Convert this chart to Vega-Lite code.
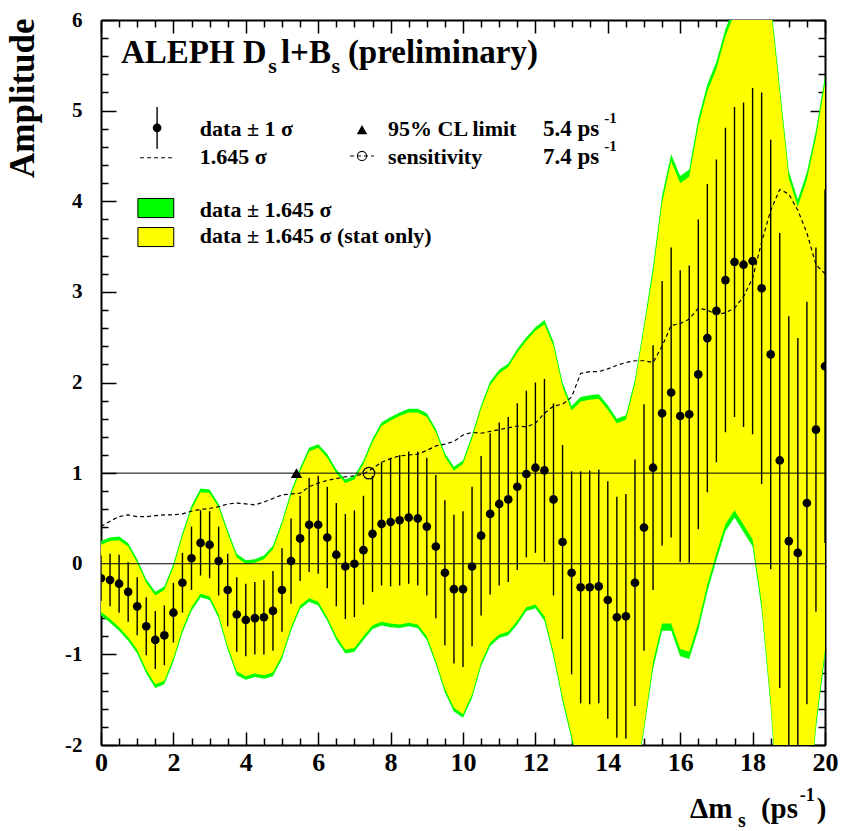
{
"$schema":"https://vega.github.io/schema/vega-lite/v6.json",
"width":724,"height":725,
"autosize":{"type":"none"},
"padding":{"left":101,"top":20,"right":16,"bottom":86},
"background":"white",
"config":{"view":{"stroke":null},"font":"Liberation Serif"},
"data":{"values":[{}]},
"datasets":{"main":[
{"x":0,"a":-0.16,"d":0.41,"s":0.25,"gl":-0.57,"gh":0.25,"yl":-0.53,"yh":0.21},
{"x":0.25,"a":-0.18,"d":0.47,"s":0.29,"gl":-0.65,"gh":0.29,"yl":-0.61,"yh":0.25},
{"x":0.5,"a":-0.22,"d":0.52,"s":0.32,"gl":-0.74,"gh":0.30,"yl":-0.70,"yh":0.26},
{"x":0.75,"a":-0.31,"d":0.54,"s":0.33,"gl":-0.85,"gh":0.23,"yl":-0.81,"yh":0.19},
{"x":1,"a":-0.47,"d":0.52,"s":0.32,"gl":-0.99,"gh":0.05,"yl":-0.95,"yh":0.01},
{"x":1.25,"a":-0.69,"d":0.52,"s":0.32,"gl":-1.21,"gh":-0.17,"yl":-1.17,"yh":-0.21},
{"x":1.5,"a":-0.84,"d":0.53,"s":0.32,"gl":-1.37,"gh":-0.31,"yl":-1.33,"yh":-0.35},
{"x":1.75,"a":-0.79,"d":0.54,"s":0.33,"gl":-1.33,"gh":-0.25,"yl":-1.29,"yh":-0.29},
{"x":2,"a":-0.54,"d":0.54,"s":0.33,"gl":-1.08,"gh":0.00,"yl":-1.04,"yh":-0.04},
{"x":2.25,"a":-0.21,"d":0.55,"s":0.33,"gl":-0.76,"gh":0.34,"yl":-0.72,"yh":0.30},
{"x":2.5,"a":0.06,"d":0.58,"s":0.35,"gl":-0.52,"gh":0.64,"yl":-0.48,"yh":0.60},
{"x":2.75,"a":0.23,"d":0.60,"s":0.36,"gl":-0.37,"gh":0.83,"yl":-0.33,"yh":0.79},
{"x":3,"a":0.21,"d":0.61,"s":0.37,"gl":-0.40,"gh":0.82,"yl":-0.36,"yh":0.78},
{"x":3.25,"a":0.03,"d":0.63,"s":0.38,"gl":-0.60,"gh":0.66,"yl":-0.56,"yh":0.62},
{"x":3.5,"a":-0.29,"d":0.66,"s":0.40,"gl":-0.95,"gh":0.37,"yl":-0.91,"yh":0.33},
{"x":3.75,"a":-0.56,"d":0.67,"s":0.41,"gl":-1.23,"gh":0.11,"yl":-1.19,"yh":0.07},
{"x":4,"a":-0.62,"d":0.66,"s":0.40,"gl":-1.28,"gh":0.04,"yl":-1.24,"yh":0.00},
{"x":4.25,"a":-0.60,"d":0.65,"s":0.40,"gl":-1.25,"gh":0.05,"yl":-1.21,"yh":0.01},
{"x":4.5,"a":-0.59,"d":0.68,"s":0.41,"gl":-1.27,"gh":0.09,"yl":-1.23,"yh":0.05},
{"x":4.75,"a":-0.52,"d":0.72,"s":0.44,"gl":-1.24,"gh":0.20,"yl":-1.20,"yh":0.16},
{"x":5,"a":-0.29,"d":0.76,"s":0.46,"gl":-1.05,"gh":0.47,"yl":-1.01,"yh":0.43},
{"x":5.25,"a":0.03,"d":0.77,"s":0.47,"gl":-0.74,"gh":0.80,"yl":-0.70,"yh":0.76},
{"x":5.5,"a":0.28,"d":0.78,"s":0.47,"gl":-0.50,"gh":1.06,"yl":-0.46,"yh":1.02},
{"x":5.75,"a":0.43,"d":0.85,"s":0.52,"gl":-0.42,"gh":1.28,"yl":-0.38,"yh":1.24},
{"x":6,"a":0.43,"d":0.89,"s":0.54,"gl":-0.46,"gh":1.32,"yl":-0.42,"yh":1.28},
{"x":6.25,"a":0.29,"d":0.92,"s":0.56,"gl":-0.63,"gh":1.21,"yl":-0.59,"yh":1.17},
{"x":6.5,"a":0.10,"d":0.94,"s":0.57,"gl":-0.84,"gh":1.04,"yl":-0.80,"yh":1.00},
{"x":6.75,"a":-0.03,"d":0.96,"s":0.58,"gl":-0.99,"gh":0.93,"yl":-0.95,"yh":0.89},
{"x":7,"a":0.00,"d":0.97,"s":0.59,"gl":-0.97,"gh":0.97,"yl":-0.93,"yh":0.93},
{"x":7.25,"a":0.15,"d":0.99,"s":0.60,"gl":-0.84,"gh":1.14,"yl":-0.80,"yh":1.10},
{"x":7.5,"a":0.33,"d":1.05,"s":0.64,"gl":-0.72,"gh":1.38,"yl":-0.68,"yh":1.34},
{"x":7.75,"a":0.44,"d":1.12,"s":0.68,"gl":-0.68,"gh":1.56,"yl":-0.64,"yh":1.52},
{"x":8,"a":0.46,"d":1.16,"s":0.71,"gl":-0.70,"gh":1.62,"yl":-0.66,"yh":1.58},
{"x":8.25,"a":0.48,"d":1.19,"s":0.72,"gl":-0.71,"gh":1.67,"yl":-0.67,"yh":1.63},
{"x":8.5,"a":0.51,"d":1.20,"s":0.73,"gl":-0.69,"gh":1.71,"yl":-0.65,"yh":1.67},
{"x":8.75,"a":0.50,"d":1.21,"s":0.74,"gl":-0.71,"gh":1.71,"yl":-0.67,"yh":1.67},
{"x":9,"a":0.41,"d":1.25,"s":0.76,"gl":-0.84,"gh":1.66,"yl":-0.80,"yh":1.62},
{"x":9.25,"a":0.19,"d":1.30,"s":0.79,"gl":-1.11,"gh":1.49,"yl":-1.07,"yh":1.45},
{"x":9.5,"a":-0.10,"d":1.32,"s":0.80,"gl":-1.42,"gh":1.22,"yl":-1.38,"yh":1.18},
{"x":9.75,"a":-0.28,"d":1.35,"s":0.82,"gl":-1.63,"gh":1.07,"yl":-1.59,"yh":1.03},
{"x":10,"a":-0.28,"d":1.42,"s":0.86,"gl":-1.70,"gh":1.14,"yl":-1.66,"yh":1.10},
{"x":10.25,"a":-0.03,"d":1.45,"s":0.88,"gl":-1.48,"gh":1.42,"yl":-1.44,"yh":1.38},
{"x":10.5,"a":0.31,"d":1.44,"s":0.88,"gl":-1.13,"gh":1.75,"yl":-1.09,"yh":1.71},
{"x":10.75,"a":0.55,"d":1.46,"s":0.89,"gl":-0.91,"gh":2.01,"yl":-0.87,"yh":1.97},
{"x":11,"a":0.66,"d":1.48,"s":0.90,"gl":-0.82,"gh":2.14,"yl":-0.78,"yh":2.10},
{"x":11.25,"a":0.71,"d":1.50,"s":0.91,"gl":-0.79,"gh":2.21,"yl":-0.75,"yh":2.17},
{"x":11.5,"a":0.85,"d":1.52,"s":0.92,"gl":-0.67,"gh":2.37,"yl":-0.63,"yh":2.33},
{"x":11.75,"a":0.99,"d":1.51,"s":0.92,"gl":-0.52,"gh":2.50,"yl":-0.48,"yh":2.46},
{"x":12,"a":1.06,"d":1.55,"s":0.94,"gl":-0.49,"gh":2.61,"yl":-0.45,"yh":2.57},
{"x":12.25,"a":1.03,"d":1.66,"s":1.01,"gl":-0.63,"gh":2.69,"yl":-0.58,"yh":2.64},
{"x":12.5,"a":0.71,"d":1.74,"s":1.06,"gl":-1.03,"gh":2.45,"yl":-0.98,"yh":2.40},
{"x":12.75,"a":0.24,"d":1.76,"s":1.07,"gl":-1.52,"gh":2.00,"yl":-1.47,"yh":1.95},
{"x":13,"a":-0.10,"d":1.84,"s":1.12,"gl":-1.94,"gh":1.74,"yl":-1.89,"yh":1.69},
{"x":13.25,"a":-0.26,"d":2.10,"s":1.28,"gl":-2.36,"gh":1.84,"yl":-2.31,"yh":1.79},
{"x":13.5,"a":-0.26,"d":2.12,"s":1.29,"gl":-2.38,"gh":1.86,"yl":-2.33,"yh":1.81},
{"x":13.75,"a":-0.25,"d":2.12,"s":1.29,"gl":-2.37,"gh":1.87,"yl":-2.32,"yh":1.82},
{"x":14,"a":-0.40,"d":2.15,"s":1.31,"gl":-2.55,"gh":1.75,"yl":-2.50,"yh":1.70},
{"x":14.25,"a":-0.59,"d":2.19,"s":1.33,"gl":-2.78,"gh":1.60,"yl":-2.73,"yh":1.55},
{"x":14.5,"a":-0.58,"d":2.22,"s":1.35,"gl":-2.80,"gh":1.64,"yl":-2.75,"yh":1.59},
{"x":14.75,"a":-0.21,"d":2.24,"s":1.36,"gl":-2.45,"gh":2.03,"yl":-2.40,"yh":1.98},
{"x":15,"a":0.40,"d":2.24,"s":1.36,"gl":-1.84,"gh":2.64,"yl":-1.79,"yh":2.59},
{"x":15.25,"a":1.06,"d":2.22,"s":1.35,"gl":-1.16,"gh":3.28,"yl":-1.08,"yh":3.20},
{"x":15.5,"a":1.66,"d":2.40,"s":1.46,"gl":-0.74,"gh":4.06,"yl":-0.66,"yh":3.98},
{"x":15.75,"a":1.89,"d":2.63,"s":1.60,"gl":-0.74,"gh":4.52,"yl":-0.66,"yh":4.44},
{"x":16,"a":1.63,"d":2.65,"s":1.61,"gl":-1.02,"gh":4.28,"yl":-0.94,"yh":4.20},
{"x":16.25,"a":1.65,"d":2.70,"s":1.64,"gl":-1.05,"gh":4.35,"yl":-0.97,"yh":4.27},
{"x":16.5,"a":2.09,"d":2.82,"s":1.71,"gl":-0.73,"gh":4.91,"yl":-0.65,"yh":4.83},
{"x":16.75,"a":2.49,"d":2.80,"s":1.70,"gl":-0.31,"gh":5.29,"yl":-0.23,"yh":5.21},
{"x":17,"a":2.79,"d":2.75,"s":1.67,"gl":0.04,"gh":5.54,"yl":0.12,"yh":5.46},
{"x":17.25,"a":3.13,"d":2.77,"s":1.68,"gl":0.36,"gh":5.90,"yl":0.44,"yh":5.82},
{"x":17.5,"a":3.33,"d":2.82,"s":1.71,"gl":0.51,"gh":6.15,"yl":0.59,"yh":6.07},
{"x":17.75,"a":3.30,"d":2.95,"s":1.79,"gl":0.35,"gh":6.25,"yl":0.43,"yh":6.17},
{"x":18,"a":3.34,"d":3.15,"s":1.91,"gl":0.19,"gh":6.49,"yl":0.27,"yh":6.41},
{"x":18.25,"a":3.04,"d":3.55,"s":2.16,"gl":-0.51,"gh":6.59,"yl":-0.43,"yh":6.51},
{"x":18.5,"a":2.31,"d":3.90,"s":2.37,"gl":-1.59,"gh":6.21,"yl":-1.51,"yh":6.13},
{"x":18.75,"a":1.14,"d":4.13,"s":2.51,"gl":-2.99,"gh":5.27,"yl":-2.91,"yh":5.19},
{"x":19,"a":0.25,"d":4.08,"s":2.48,"gl":-3.83,"gh":4.33,"yl":-3.75,"yh":4.25},
{"x":19.25,"a":0.12,"d":3.90,"s":2.37,"gl":-3.78,"gh":4.02,"yl":-3.70,"yh":3.94},
{"x":19.5,"a":0.67,"d":3.65,"s":2.22,"gl":-2.98,"gh":4.32,"yl":-2.90,"yh":4.24},
{"x":19.75,"a":1.48,"d":3.30,"s":2.01,"gl":-1.82,"gh":4.78,"yl":-1.74,"yh":4.70},
{"x":20,"a":2.18,"d":3.20,"s":1.95,"gl":-1.02,"gh":5.38,"yl":-0.94,"yh":5.30}
]},
"resolve":{"axis":{"x":"independent","y":"independent"}},
"layer":[
{"data":{"name":"main"},"mark":{"type":"area","color":"#00ff00","clip":true},
 "encoding":{
  "x":{"field":"x","type":"quantitative","scale":{"domain":[0,20],"nice":false,"zero":false},
   "axis":{"orient":"bottom","values":[0,0.5,1,1.5,2,2.5,3,3.5,4,4.5,5,5.5,6,6.5,7,7.5,8,8.5,9,9.5,10,10.5,11,11.5,12,12.5,13,13.5,14,14.5,15,15.5,16,16.5,17,17.5,18,18.5,19,19.5,20],
    "title":null,"grid":false,"domainColor":"black","domainWidth":2,"tickColor":"black","tickWidth":1.5,
    "tickSize":{"condition":{"test":"datum.value % 2 === 0","value":-13},"value":-7},
    "labelExpr":"datum.value % 2 === 0 ? '' + datum.value : ''",
    "labelFont":"Liberation Serif","labelFontWeight":"bold","labelFontSize":26,"labelColor":"black","labelPadding":17,"labelBaseline":"top","labelOverlap":false,"labelFlush":false,"labelBound":false}},
  "y":{"field":"gl","type":"quantitative","scale":{"domain":[-2,6],"nice":false,"zero":false},
   "axis":{"orient":"left","values":[-2,-1.8,-1.6,-1.4,-1.2,-1,-0.8,-0.6,-0.4,-0.2,0,0.2,0.4,0.6,0.8,1,1.2,1.4,1.6,1.8,2,2.2,2.4,2.6,2.8,3,3.2,3.4,3.6,3.8,4,4.2,4.4,4.6,4.8,5,5.2,5.4,5.6,5.8,6],
    "title":"Amplitude","titleFont":"Liberation Serif","titleFontWeight":"bold","titleFontSize":35,"titleColor":"black","titleAngle":270,"titleAlign":"right","titleBaseline":"alphabetic","titleX":-68,"titleY":-2,
    "grid":false,"domainColor":"black","domainWidth":2,"tickColor":"black","tickWidth":1.5,
    "tickSize":{"condition":{"test":"abs(datum.value-round(datum.value))<0.001","value":-15},"value":-7},
    "labelExpr":"abs(datum.value-round(datum.value))<0.001 ? '' + round(datum.value) : ''",
    "labelFont":"Liberation Serif","labelFontWeight":"bold","labelFontSize":21,"labelColor":"black","labelPadding":34,"labelBaseline":"middle","labelOverlap":false,"labelFlush":false,"labelBound":false}},
  "y2":{"field":"gh"}}},
{"data":{"name":"main"},"mark":{"type":"area","color":"#ffff00","clip":true},
 "encoding":{
  "x":{"field":"x","type":"quantitative",
   "axis":{"orient":"top","values":[0,0.5,1,1.5,2,2.5,3,3.5,4,4.5,5,5.5,6,6.5,7,7.5,8,8.5,9,9.5,10,10.5,11,11.5,12,12.5,13,13.5,14,14.5,15,15.5,16,16.5,17,17.5,18,18.5,19,19.5,20],
    "title":null,"grid":false,"labels":false,"domainColor":"black","domainWidth":2,"tickColor":"black","tickWidth":1.5,
    "tickSize":{"condition":{"test":"datum.value % 2 === 0","value":-13},"value":-7}}},
  "y":{"field":"yl","type":"quantitative",
   "axis":{"orient":"right","values":[-2,-1.8,-1.6,-1.4,-1.2,-1,-0.8,-0.6,-0.4,-0.2,0,0.2,0.4,0.6,0.8,1,1.2,1.4,1.6,1.8,2,2.2,2.4,2.6,2.8,3,3.2,3.4,3.6,3.8,4,4.2,4.4,4.6,4.8,5,5.2,5.4,5.6,5.8,6],
    "title":null,"grid":false,"labels":false,"domainColor":"black","domainWidth":2,"tickColor":"black","tickWidth":1.5,
    "tickSize":{"condition":{"test":"abs(datum.value-round(datum.value))<0.001","value":-15},"value":-7}}},
  "y2":{"field":"yh"}}},
{"mark":{"type":"rule","color":"black","strokeWidth":1},"encoding":{"y":{"datum":0,"type":"quantitative","axis":null}}},
{"mark":{"type":"rule","color":"black","strokeWidth":1},"encoding":{"y":{"datum":1,"type":"quantitative","axis":null}}},
{"data":{"name":"main"},"mark":{"type":"line","color":"black","strokeWidth":1.2,"strokeDash":[4,3],"clip":true},
 "encoding":{"x":{"field":"x","type":"quantitative","axis":null},"y":{"field":"d","type":"quantitative","axis":null}}},
{"data":{"name":"main"},"mark":{"type":"errorbar","ticks":false,"color":"black","thickness":1.4,"clip":true},
 "encoding":{"x":{"field":"x","type":"quantitative","axis":null},"y":{"field":"a","type":"quantitative","axis":null},"yError":{"field":"s"}}},
{"data":{"name":"main"},"mark":{"type":"point","shape":"circle","filled":true,"color":"black","opacity":1,"size":75,"clip":true},
 "encoding":{"x":{"field":"x","type":"quantitative","axis":null},"y":{"field":"a","type":"quantitative","axis":null}}},
{"mark":{"type":"point","shape":"triangle-up","filled":true,"color":"black","opacity":1,"size":130},
 "encoding":{"x":{"datum":5.4,"type":"quantitative","axis":null},"y":{"datum":1,"type":"quantitative","axis":null}}},
{"mark":{"type":"point","shape":"circle","filled":false,"color":"black","opacity":1,"size":135,"strokeWidth":1.3},
 "encoding":{"x":{"datum":7.4,"type":"quantitative","axis":null},"y":{"datum":1,"type":"quantitative","axis":null}}},
{"mark":{"type":"rule","color":"black","strokeWidth":1.4},
 "encoding":{"x":{"datum":1.55,"type":"quantitative","axis":null},"y":{"datum":4.58,"type":"quantitative","axis":null},"y2":{"datum":5.04}}},
{"mark":{"type":"point","shape":"circle","filled":true,"color":"black","opacity":1,"size":75},
 "encoding":{"x":{"datum":1.55,"type":"quantitative","axis":null},"y":{"datum":4.81,"type":"quantitative","axis":null}}},
{"mark":{"type":"rule","color":"black","strokeWidth":1.2,"strokeDash":[4,3]},
 "encoding":{"x":{"datum":1.08,"type":"quantitative","axis":null},"x2":{"datum":2.04},"y":{"datum":4.48,"type":"quantitative","axis":null}}},
{"mark":{"type":"point","shape":"triangle-up","filled":true,"color":"black","opacity":1,"size":110},
 "encoding":{"x":{"datum":7.21,"type":"quantitative","axis":null},"y":{"datum":4.79,"type":"quantitative","axis":null}}},
{"mark":{"type":"rule","color":"black","strokeWidth":1,"strokeDash":[4,3]},
 "encoding":{"x":{"datum":6.88,"type":"quantitative","axis":null},"x2":{"datum":7.54},"y":{"datum":4.5,"type":"quantitative","axis":null}}},
{"mark":{"type":"point","shape":"circle","filled":false,"color":"black","opacity":1,"size":85,"strokeWidth":1.1},
 "encoding":{"x":{"datum":7.21,"type":"quantitative","axis":null},"y":{"datum":4.5,"type":"quantitative","axis":null}}},
{"mark":{"type":"rect","color":"#00ff00","stroke":"black","strokeWidth":1},
 "encoding":{"x":{"datum":1.02,"type":"quantitative","axis":null},"x2":{"datum":2.01},"y":{"datum":3.82,"type":"quantitative","axis":null},"y2":{"datum":4.03}}},
{"mark":{"type":"rect","color":"#ffff00","stroke":"black","strokeWidth":1},
 "encoding":{"x":{"datum":1.02,"type":"quantitative","axis":null},"x2":{"datum":2.01},"y":{"datum":3.50,"type":"quantitative","axis":null},"y2":{"datum":3.71}}},
{"mark":{"type":"text","align":"left","baseline":"alphabetic","font":"Liberation Serif","fontWeight":"bold","fontSize":33,"color":"black"},
 "encoding":{"x":{"datum":0.55,"type":"quantitative","axis":null},"y":{"datum":5.53,"type":"quantitative","axis":null},"text":{"value":"ALEPH D"}}},
{"mark":{"type":"text","align":"left","baseline":"alphabetic","font":"Liberation Serif","fontWeight":"bold","fontSize":22,"color":"black"},
 "encoding":{"x":{"datum":4.62,"type":"quantitative","axis":null},"y":{"datum":5.41,"type":"quantitative","axis":null},"text":{"value":"s"}}},
{"mark":{"type":"text","align":"left","baseline":"alphabetic","font":"Liberation Serif","fontWeight":"bold","fontSize":33,"color":"black"},
 "encoding":{"x":{"datum":4.97,"type":"quantitative","axis":null},"y":{"datum":5.53,"type":"quantitative","axis":null},"text":{"value":"l+B"}}},
{"mark":{"type":"text","align":"left","baseline":"alphabetic","font":"Liberation Serif","fontWeight":"bold","fontSize":22,"color":"black"},
 "encoding":{"x":{"datum":6.37,"type":"quantitative","axis":null},"y":{"datum":5.41,"type":"quantitative","axis":null},"text":{"value":"s"}}},
{"mark":{"type":"text","align":"left","baseline":"alphabetic","font":"Liberation Serif","fontWeight":"bold","fontSize":33,"color":"black"},
 "encoding":{"x":{"datum":6.82,"type":"quantitative","axis":null},"y":{"datum":5.53,"type":"quantitative","axis":null},"text":{"value":"(preliminary)"}}},
{"mark":{"type":"text","align":"left","baseline":"alphabetic","font":"Liberation Serif","fontWeight":"bold","fontSize":22,"color":"black"},
 "encoding":{"x":{"datum":2.73,"type":"quantitative","axis":null},"y":{"datum":4.72,"type":"quantitative","axis":null},"text":{"value":"data ± 1 σ"}}},
{"mark":{"type":"text","align":"left","baseline":"alphabetic","font":"Liberation Serif","fontWeight":"bold","fontSize":22,"color":"black"},
 "encoding":{"x":{"datum":7.93,"type":"quantitative","axis":null},"y":{"datum":4.72,"type":"quantitative","axis":null},"text":{"value":"95% CL limit"}}},
{"mark":{"type":"text","align":"left","baseline":"alphabetic","font":"Liberation Serif","fontWeight":"bold","fontSize":23,"color":"black"},
 "encoding":{"x":{"datum":12.21,"type":"quantitative","axis":null},"y":{"datum":4.72,"type":"quantitative","axis":null},"text":{"value":"5.4 ps"}}},
{"mark":{"type":"text","align":"left","baseline":"alphabetic","font":"Liberation Serif","fontWeight":"bold","fontSize":15,"color":"black"},
 "encoding":{"x":{"datum":13.9,"type":"quantitative","axis":null},"y":{"datum":4.86,"type":"quantitative","axis":null},"text":{"value":"-1"}}},
{"mark":{"type":"text","align":"left","baseline":"alphabetic","font":"Liberation Serif","fontWeight":"bold","fontSize":22,"color":"black"},
 "encoding":{"x":{"datum":2.73,"type":"quantitative","axis":null},"y":{"datum":4.41,"type":"quantitative","axis":null},"text":{"value":"1.645 σ"}}},
{"mark":{"type":"text","align":"left","baseline":"alphabetic","font":"Liberation Serif","fontWeight":"bold","fontSize":22,"color":"black"},
 "encoding":{"x":{"datum":7.93,"type":"quantitative","axis":null},"y":{"datum":4.41,"type":"quantitative","axis":null},"text":{"value":"sensitivity"}}},
{"mark":{"type":"text","align":"left","baseline":"alphabetic","font":"Liberation Serif","fontWeight":"bold","fontSize":23,"color":"black"},
 "encoding":{"x":{"datum":12.21,"type":"quantitative","axis":null},"y":{"datum":4.41,"type":"quantitative","axis":null},"text":{"value":"7.4 ps"}}},
{"mark":{"type":"text","align":"left","baseline":"alphabetic","font":"Liberation Serif","fontWeight":"bold","fontSize":15,"color":"black"},
 "encoding":{"x":{"datum":13.9,"type":"quantitative","axis":null},"y":{"datum":4.55,"type":"quantitative","axis":null},"text":{"value":"-1"}}},
{"mark":{"type":"text","align":"left","baseline":"alphabetic","font":"Liberation Serif","fontWeight":"bold","fontSize":22,"color":"black"},
 "encoding":{"x":{"datum":2.73,"type":"quantitative","axis":null},"y":{"datum":3.83,"type":"quantitative","axis":null},"text":{"value":"data ± 1.645 σ"}}},
{"mark":{"type":"text","align":"left","baseline":"alphabetic","font":"Liberation Serif","fontWeight":"bold","fontSize":22,"color":"black"},
 "encoding":{"x":{"datum":2.73,"type":"quantitative","axis":null},"y":{"datum":3.54,"type":"quantitative","axis":null},"text":{"value":"data ± 1.645 σ (stat only)"}}},
{"mark":{"type":"text","align":"left","baseline":"alphabetic","font":"Liberation Serif","fontWeight":"bold","fontSize":29,"color":"black"},
 "encoding":{"x":{"datum":16.27,"type":"quantitative","axis":null},"y":{"datum":-2.81,"type":"quantitative","axis":null},"text":{"value":"Δm"}}},
{"mark":{"type":"text","align":"left","baseline":"alphabetic","font":"Liberation Serif","fontWeight":"bold","fontSize":20,"color":"black"},
 "encoding":{"x":{"datum":17.6,"type":"quantitative","axis":null},"y":{"datum":-2.9,"type":"quantitative","axis":null},"text":{"value":"s"}}},
{"mark":{"type":"text","align":"left","baseline":"alphabetic","font":"Liberation Serif","fontWeight":"bold","fontSize":29,"color":"black"},
 "encoding":{"x":{"datum":18.23,"type":"quantitative","axis":null},"y":{"datum":-2.81,"type":"quantitative","axis":null},"text":{"value":"(ps"}}},
{"mark":{"type":"text","align":"left","baseline":"alphabetic","font":"Liberation Serif","fontWeight":"bold","fontSize":18,"color":"black"},
 "encoding":{"x":{"datum":19.3,"type":"quantitative","axis":null},"y":{"datum":-2.62,"type":"quantitative","axis":null},"text":{"value":"-1"}}},
{"mark":{"type":"text","align":"left","baseline":"alphabetic","font":"Liberation Serif","fontWeight":"bold","fontSize":29,"color":"black"},
 "encoding":{"x":{"datum":19.77,"type":"quantitative","axis":null},"y":{"datum":-2.81,"type":"quantitative","axis":null},"text":{"value":")"}}}
]
}
